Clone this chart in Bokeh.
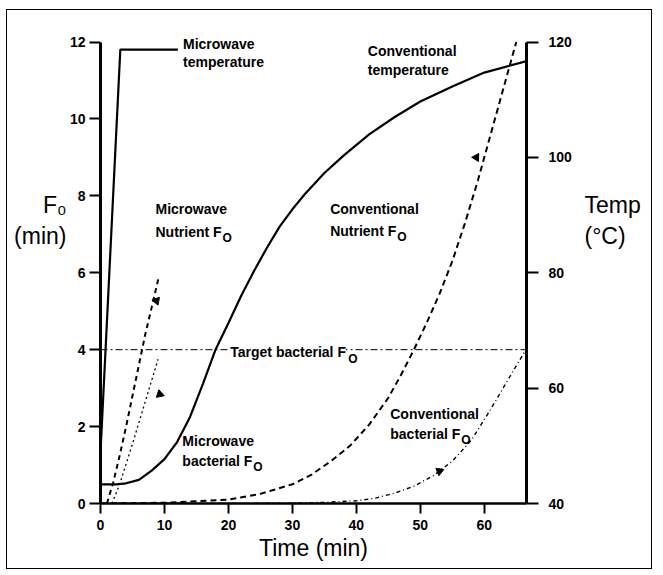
import math
from bokeh.plotting import figure
from bokeh.models import Range1d, LinearAxis, Label, Span, FixedTicker
from bokeh.embed import file_html
from bokeh.resources import INLINE

# ---------------- data ----------------
time_ticks = [0, 10, 20, 30, 40, 50, 60]
f0_ticks = [0, 2, 4, 6, 8, 10, 12]
temp_ticks = [40, 60, 80, 100, 120]

target_f0 = 4.0

mw_temp_t = [0.0, 0.05, 3.1, 12.1]
mw_temp_c = [43.3, 50.0, 118.7, 118.7]

conv_temp_t = [0, 2.5, 4, 6, 8, 10, 12, 14, 16, 18, 20, 22, 24, 26, 28, 30, 32, 35,
               38, 42, 46, 50, 55, 60, 66.6]
conv_temp_c = [43.3, 43.3, 43.5, 44.1, 45.7, 47.7, 50.7, 55.0, 60.7, 66.7, 71.3, 76.0,
               80.3, 84.3, 88.0, 91.0, 93.7, 97.3, 100.3, 104.0, 107.0, 109.7, 112.3,
               114.7, 116.7]

mw_nut_t = [1.0, 2.0, 3.0, 4.0, 5.0, 6.0, 7.0, 8.0, 9.05]
mw_nut_f = [0.0, 0.55, 1.25, 2.0, 2.8, 3.6, 4.4, 5.1, 5.85]

mw_bac_t = [1.8, 3.0, 5.0, 7.0, 9.0]
mw_bac_f = [0.0, 0.5, 1.55, 2.65, 3.75]

conv_nut_t = [0, 10, 20, 25, 30, 33, 36, 39, 42, 45, 47, 49, 51, 53, 55, 57, 59, 61, 63, 65]
conv_nut_f = [0.0, 0.02, 0.1, 0.25, 0.5, 0.75, 1.1, 1.5, 2.05, 2.75, 3.35, 4.0, 4.7,
              5.45, 6.3, 7.3, 8.4, 9.6, 10.8, 12.0]

conv_bac_t = [0, 20, 30, 35, 40, 43, 46, 49, 52, 55, 58, 61, 64, 66.5]
conv_bac_f = [0.0, 0.0, 0.01, 0.03, 0.07, 0.14, 0.27, 0.45, 0.72, 1.1, 1.65, 2.45, 3.3, 4.0]

arrow_t = [8.75, 9.27, 58.75, 53.0]
arrow_f = [5.27, 2.84, 9.0, 0.84]

# ---------------- figure ----------------
FONT = "Liberation Sans"

p = figure(width=646, height=560, output_backend="svg", toolbar_location=None,
           x_range=Range1d(0, 66.6), y_range=Range1d(0, 12.3),
           min_border_left=93, min_border_right=127, min_border_top=20,
           min_border_bottom=67, background_fill_color="white",
           border_fill_color="white", outline_line_color=None)
p.styles = {"border": "1px solid black", "margin-left": "6px", "margin-top": "9px"}
p.grid.visible = False
p.extra_y_ranges = {"temp": Range1d(40, 122)}

def style_axis(ax, width):
    ax.axis_line_width = width
    ax.axis_line_color = "black"
    ax.major_tick_line_width = 2
    ax.major_tick_line_color = "black"
    ax.major_tick_in = 0
    ax.major_tick_out = 11
    ax.minor_tick_line_color = None
    ax.major_label_text_font = FONT
    ax.major_label_text_font_style = "bold"
    ax.major_label_text_font_size = "14px"
    ax.major_label_text_color = "black"

def title_axis(ax, text, standoff):
    ax.axis_line_color = None
    ax.major_tick_line_color = None
    ax.minor_tick_line_color = None
    ax.major_label_text_font_size = "0px"
    ax.major_label_text_color = None
    ax.ticker = FixedTicker(ticks=[])
    ax.axis_label = text
    ax.axis_label_orientation = "horizontal"
    ax.axis_label_text_font = FONT
    ax.axis_label_text_font_style = "normal"
    ax.axis_label_text_font_size = "23px"
    ax.axis_label_text_line_height = 1.2
    ax.axis_label_text_color = "black"
    ax.axis_label_standoff = standoff

xa = p.xaxis[0]
style_axis(xa, 2.5)
xa.ticker = FixedTicker(ticks=time_ticks)
xa.bounds = (0, 66.6)
xa.major_tick_out = 10
xa.major_label_standoff = 6
xa.axis_label = "Time (min)"
xa.axis_label_text_font = FONT
xa.axis_label_text_font_style = "normal"
xa.axis_label_text_font_size = "23px"
xa.axis_label_text_color = "black"
xa.axis_label_standoff = 2

ya = p.yaxis[0]
style_axis(ya, 3)
ya.ticker = FixedTicker(ticks=f0_ticks)
ya.bounds = (0, 12)
ya.major_label_standoff = 4

ra = LinearAxis(y_range_name="temp", ticker=FixedTicker(ticks=temp_ticks), bounds=(40, 120))
style_axis(ra, 3)
ra.major_tick_out = 12
ra.major_label_standoff = 10
p.add_layout(ra, "right")

# axis titles (horizontal); trailing blank lines lift the block to the reference's height
lt = LinearAxis()
title_axis(lt, "F₀\n(min)\n\n\n", 0)
p.add_layout(lt, "left")

rt = LinearAxis(y_range_name="temp")
title_axis(rt, "Temp\n(°C)\n\n\n", 10)
p.add_layout(rt, "right")

# target line
p.add_layout(Span(location=target_f0, dimension="width", line_color="black",
                  line_width=1, line_dash="7 3 2 3"))

# curves
p.line(mw_temp_t, mw_temp_c, y_range_name="temp", line_color="black", line_width=2.2)
p.line(conv_temp_t, conv_temp_c, y_range_name="temp", line_color="black", line_width=2.2)
p.line(mw_nut_t, mw_nut_f, line_color="black", line_width=2, line_dash="5 4")
p.line(conv_nut_t, conv_nut_f, line_color="black", line_width=2, line_dash="6 4")
p.line(mw_bac_t, mw_bac_f, line_color="black", line_width=1.3, line_dash="2 3")
p.line(conv_bac_t, conv_bac_f, line_color="black", line_width=1.4, line_dash="4 3 1 3")

p.scatter(arrow_t, arrow_f, marker="triangle", size=8, color="black",
          angle=[math.pi + 0.35, 2.3, math.pi + 0.5, 0.9])

# ---------------- text ----------------
def txt(x, y, s, size="14px", style="bold", align="left", xo=0, yo=0, bg=None):
    lab = Label(x=x, y=y, text=s, text_font=FONT, text_font_style=style,
                text_font_size=size, text_align=align, text_baseline="middle",
                text_color="black", x_offset=xo, y_offset=yo)
    if bg:
        lab.background_fill_color = bg
    p.add_layout(lab)

def sub(x, y, xo, size="12px", yo=-6):
    txt(x, y, "O", size=size, xo=xo, yo=yo)

txt(12.9, 11.95, "Microwave")
txt(12.9, 11.48, "temperature")
txt(41.8, 11.76, "Conventional")
txt(41.8, 11.26, "temperature")
txt(8.6, 7.65, "Microwave")
txt(8.6, 7.07, "Nutrient F"); sub(8.6, 7.07, 67)
txt(35.9, 7.66, "Conventional")
txt(35.9, 7.09, "Nutrient F"); sub(35.9, 7.09, 67)
txt(12.8, 1.62, "Microwave")
txt(12.8, 1.10, "bacterial F"); sub(12.8, 1.10, 71)
txt(45.3, 2.32, "Conventional")
txt(45.3, 1.82, "bacterial F"); sub(45.3, 1.82, 71)
txt(20.6, 3.94, "Target bacterial F", bg="white", xo=-2); sub(20.6, 3.94, 116, yo=-7)

open("out.html", "w").write(file_html(p, INLINE))
